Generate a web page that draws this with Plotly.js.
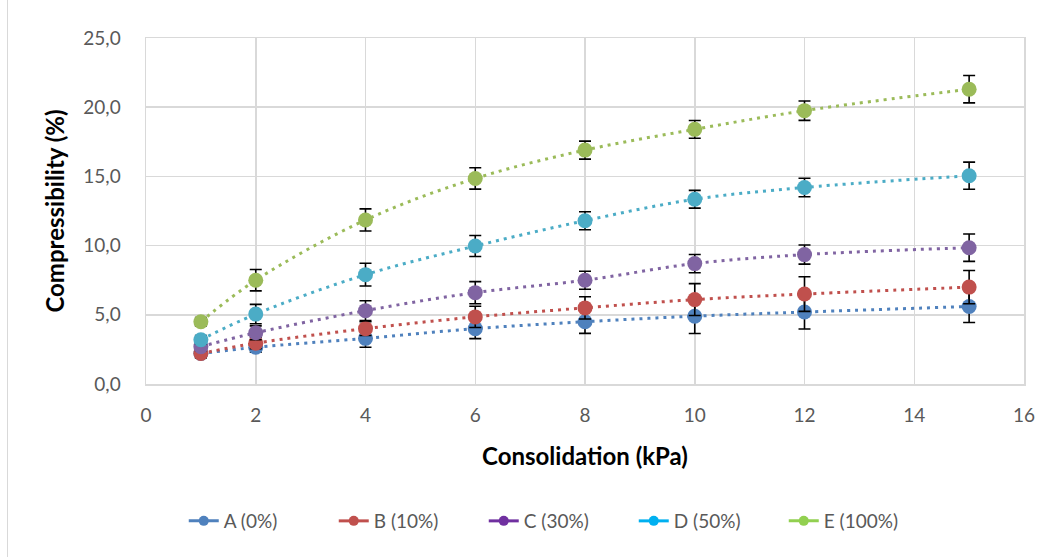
<!DOCTYPE html>
<html>
<head>
<meta charset="utf-8">
<script src="https://cdn.plot.ly/plotly-3.0.1.min.js"></script>
<style>
  html, body { margin: 0; padding: 0; background: #fff; }
  #chart { width: 1056px; height: 557px; position: absolute; left: 0; top: 0; }
  #frame { position: absolute; left: 7px; top: 0; width: 0; height: 557px; border-left: 1.5px solid #d9d9d9; pointer-events: none; }
</style>
</head>
<body>
<div id="chart"></div>
<div id="frame"></div>
<script>
const consolidation = [1, 2, 4, 6, 8, 10, 12, 15];

const seriesNames = ["A (0%)", "B (10%)", "C (30%)", "D (50%)", "E (100%)"];

const valuesA = [2.2, 2.65, 3.3, 4.0, 4.5, 4.9, 5.2, 5.6];
const valuesB = [2.2, 2.95, 4.0, 4.85, 5.5, 6.1, 6.5, 7.0];
const valuesC = [2.7, 3.7, 5.3, 6.6, 7.5, 8.7, 9.35, 9.85];
const valuesD = [3.2, 5.05, 7.9, 9.97, 11.8, 13.35, 14.2, 15.05];
const valuesE = [4.5, 7.5, 11.85, 14.85, 16.9, 18.4, 19.75, 21.3];

const errorsA = [0.3, 0.35, 0.65, 0.72, 0.84, 1.25, 1.23, 1.16];
const errorsB = [0.3, 0.4, 0.5, 0.77, 0.8, 1.15, 1.25, 1.2];
const errorsC = [0.3, 0.5, 0.72, 0.8, 0.65, 0.66, 0.69, 0.99];
const errorsD = [0.3, 0.7, 0.82, 0.76, 0.65, 0.64, 0.67, 0.98];
const errorsE = [0.3, 0.77, 0.8, 0.77, 0.65, 0.64, 0.7, 0.99];

const markerColors = ["#4f81bd", "#c0504d", "#8064a2", "#4bacc6", "#9bbb59"];
const legendColors = ["#4f81bd", "#c0504d", "#7030a0", "#00b0f0", "#92d050"];

const allValues = [valuesA, valuesB, valuesC, valuesD, valuesE];
const allErrors = [errorsA, errorsB, errorsC, errorsD, errorsE];

const traces = [];
allValues.forEach((vals, i) => {
  traces.push({
    x: consolidation,
    y: vals,
    type: "scatter",
    mode: "lines+markers",
    showlegend: false,
    hoverinfo: "x+y",
    line: { color: markerColors[i], width: 3, dash: "3px,5px", shape: "spline", smoothing: 1.0 },
    marker: { color: markerColors[i], size: 15 },
    error_y: { type: "data", array: allErrors[i], visible: true, color: "#000", thickness: 1.6, width: 6 }
  });
});
seriesNames.forEach((name, i) => {
  traces.push({
    x: [null],
    y: [null],
    type: "scatter",
    mode: "lines+markers",
    name: name,
    showlegend: true,
    line: { color: legendColors[i], width: 3 },
    marker: { color: legendColors[i], size: 10 }
  });
});

const font = "Lato, 'Open Sans', sans-serif";

const layout = {
  width: 1056,
  height: 557,
  margin: { l: 146, r: 32, t: 38, b: 173, autoexpand: false },
  paper_bgcolor: "#ffffff",
  plot_bgcolor: "#ffffff",
  separators: ",.",
  font: { family: font, color: "#595959", size: 19 },
  xaxis: {
    range: [0, 16],
    dtick: 2,
    tick0: 0,
    automargin: false,
    showgrid: true,
    gridcolor: "#d9d9d9",
    gridwidth: 1.5,
    zeroline: false,
    showline: true,
    linecolor: "#d9d9d9",
    linewidth: 1.5,
    mirror: true,
    ticks: "",
    ticklabelstandoff: 14,
    tickfont: { family: font, size: 19, color: "#595959" },
    title: { text: "<b>Consolidation (kPa)</b>", font: { family: font, size: 24, color: "#000" }, standoff: 23 }
  },
  yaxis: {
    range: [0, 25],
    dtick: 5,
    tick0: 0,
    tickformat: ".1f",
    automargin: false,
    showgrid: true,
    gridcolor: "#d9d9d9",
    gridwidth: 1.5,
    zeroline: false,
    showline: true,
    linecolor: "#d9d9d9",
    linewidth: 1.5,
    mirror: true,
    ticks: "",
    ticklabelstandoff: 20,
    tickfont: { family: font, size: 19, color: "#595959" },
    title: { text: "<b>Compressibility (%)</b>", font: { family: font, size: 24, color: "#000" }, standoff: 12 }
  },
  legend: {
    orientation: "h",
    x: 0.043,
    xanchor: "left",
    y: -0.396,
    yanchor: "middle",
    font: { family: font, size: 19, color: "#595959" },
    entrywidth: 105,
    entrywidthmode: "pixels",
    traceorder: "normal"
  },
  showlegend: true
};

Plotly.newPlot("chart", traces, layout, { displayModeBar: false, staticPlot: true });
</script>
</body>
</html>
